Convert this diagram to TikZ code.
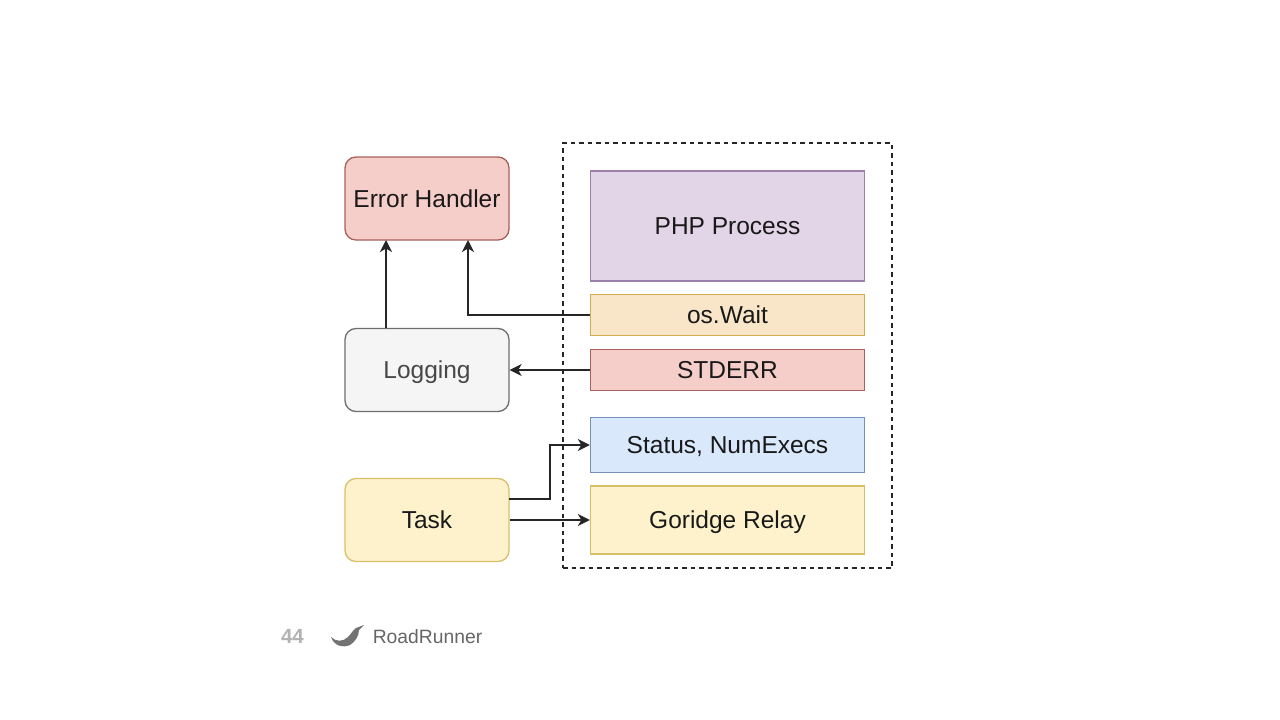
\documentclass[tikz,border=0pt]{standalone}
\usepackage{fontspec}
\setmainfont{Liberation Sans}
\usetikzlibrary{arrows.meta}
\definecolor{redF}{HTML}{F5CDC9}\definecolor{redD}{HTML}{A8605C}
\definecolor{greyF}{HTML}{F5F5F5}\definecolor{greyD}{HTML}{6E6E6E}
\definecolor{yelF}{HTML}{FDF2CC}\definecolor{yelD}{HTML}{D9C068}
\definecolor{purF}{HTML}{E1D5E7}\definecolor{purD}{HTML}{9A80A8}
\definecolor{oraF}{HTML}{F9E6C8}\definecolor{oraD}{HTML}{D0AE50}
\definecolor{bluF}{HTML}{DAE8FC}\definecolor{bluD}{HTML}{7590B8}
\tikzset{x=1pt,y=-1pt,
 lab/.style={font=\fontsize{24.5}{26}\selectfont,text=black!90,text height=17.5pt,text depth=0pt},
 rbox/.style={lab,rounded corners=11pt,draw,line width=1.3pt,minimum width=164pt,minimum height=83pt,inner sep=0pt},
 sbox/.style={lab,draw,line width=1.3pt,minimum width=274pt,inner sep=0pt},
 conn/.style={draw=black!85,line width=1.8pt,-{Stealth[length=12pt,width=12pt,inset=3.5pt]}}}
\begin{document}
\begin{tikzpicture}
\useasboundingbox (0,0) rectangle (1280,720);
\fill[white] (0,0) rectangle (1280,720);
\node[draw=black!85,line width=1.3pt,dash pattern=on 4.5pt off 4pt,minimum width=329pt,minimum height=425pt,inner sep=0pt] (frame) at (727.5,355.5) {};
\node[rbox,fill=redF,draw=redD] (err) at (427,198.5) {Error Handler};
\node[rbox,fill=greyF,draw=greyD,text=black!72] (log) at (427,370) {Logging};
\node[rbox,fill=yelF,draw=yelD] (task) at (427,520) {Task};
\node[sbox,fill=purF,draw=purD,minimum height=110pt] (php) at (727.5,226) {PHP Process};
\node[sbox,fill=oraF,draw=oraD,minimum height=41pt] (wait) at (727.5,315) {os.Wait};
\node[sbox,fill=redF,draw=redD,minimum height=41pt] (stderr) at (727.5,370) {STDERR};
\node[sbox,fill=bluF,draw=bluD,minimum height=55pt] (status) at (727.5,445) {Status, NumExecs};
\node[sbox,fill=yelF,draw=yelD,minimum height=68pt] (gor) at (727.5,520) {Goridge Relay};
\coordinate (errA) at (386,240);
\coordinate (errB) at (468,240);
\coordinate (logT) at (386,328);
\coordinate (taskU) at (509,499);
\draw[conn] (logT) -- (errA);
\draw[conn] (wait.west) -| (errB);
\draw[conn] (stderr.west) -- (log.east);
\draw[conn] (taskU) -- (550,499) -- (550,445) -- (status.west);
\draw[conn] (task.east) -- (gor.west);
\node[font=\bfseries\fontsize{20.5}{22}\selectfont,text=black!30] (num) at (292.5,636) {44};
\node[font=\fontsize{19.3}{22}\selectfont,text=black!60] (rr) at (427.5,637) {RoadRunner};
\fill[black!55] (331,637) .. controls (336,642) and (343,642) .. (348,637) .. controls (351,634) and (353,630) .. (356,628) -- (364,625) -- (359,630) .. controls (359,636) and (355,642) .. (350,645) .. controls (343,648) and (334,646) .. (331,637) -- cycle;
\end{tikzpicture}
\end{document}
